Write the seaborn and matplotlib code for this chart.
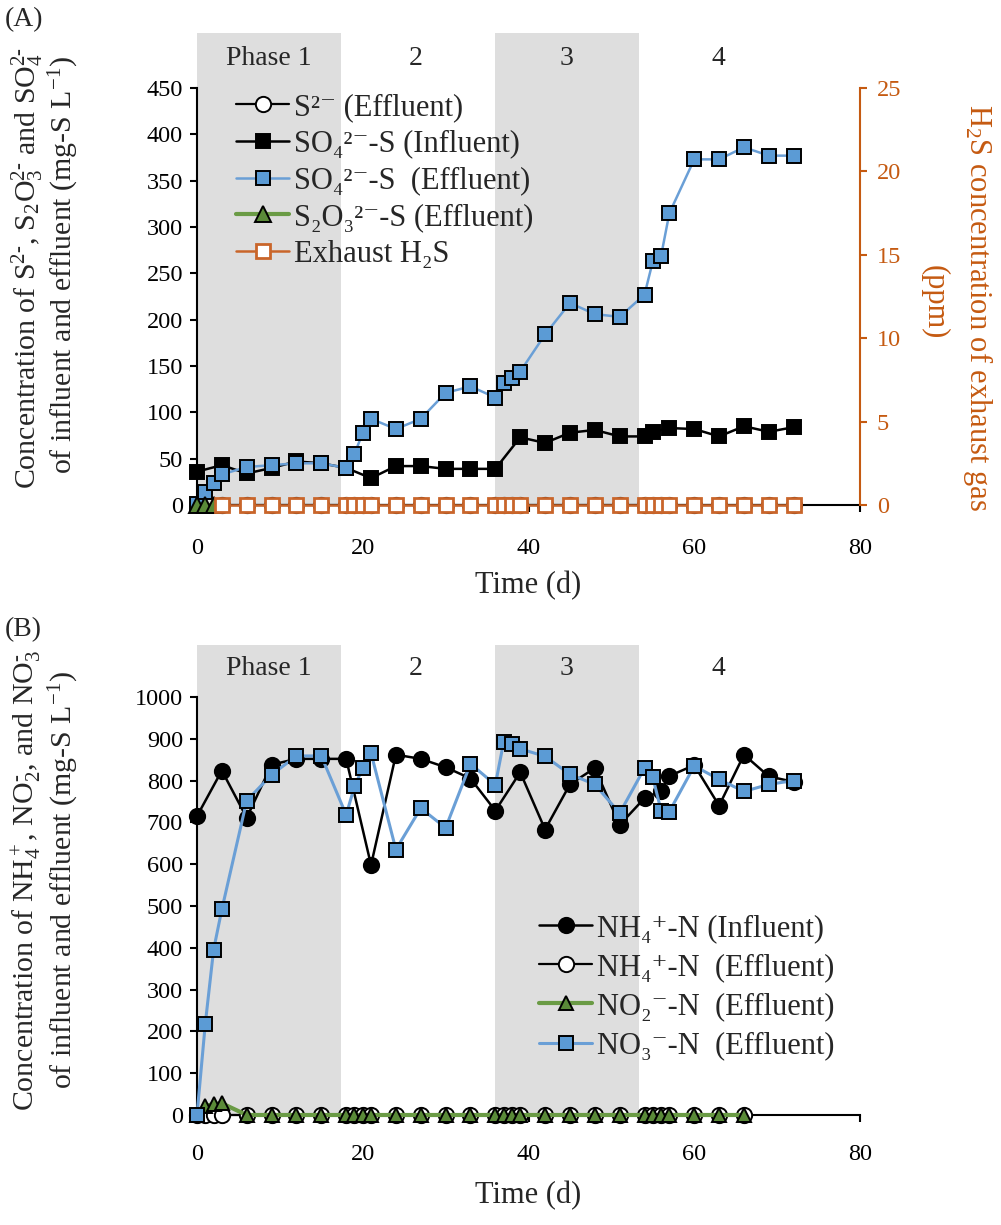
import matplotlib
matplotlib.use("Agg")
import matplotlib.pyplot as plt
import seaborn as sns

# ---------------- Panel A data ----------------
days_s2_eff = [3, 6, 9, 12, 15, 18, 19, 20, 21, 24, 27, 30, 33, 36, 37, 38, 39, 42, 45, 48, 51, 54, 55, 56, 57, 60, 63, 66, 69, 72]
s2_eff = [0, 0, 0, 0, 0, 0, 0, 0, 0, 0, 0, 0, 0, 0, 0, 0, 0, 0, 0, 0, 0, 0, 0, 0, 0, 0, 0, 0, 0, 0]

days_so4_inf = [0, 3, 6, 9, 12, 15, 18, 21, 24, 27, 30, 33, 36, 39, 42, 45, 48, 51, 54, 55, 57, 60, 63, 66, 69, 72]
so4_inf = [36, 43, 34, 40, 47, 45, 40, 29, 42, 42, 39, 39, 39, 73, 67, 78, 81, 74, 74, 79, 83, 82, 74, 85, 79, 84]

days_so4_eff = [0, 1, 2, 3, 6, 9, 12, 15, 18, 19, 20, 21, 24, 27, 30, 33, 36, 37, 38, 39, 42, 45, 48, 51, 54, 55, 56, 57, 60, 63, 66, 69, 72]
so4_eff = [1, 14, 24, 33, 41, 43, 45, 45, 40, 55, 78, 93, 82, 93, 121, 128, 116, 132, 137, 144, 184, 218, 206, 203, 227, 263, 269, 315, 373, 373, 386, 377, 377]

days_s2o3_eff = [0, 1, 2]
s2o3_eff = [0, 0, 0]

days_h2s = [3, 6, 9, 12, 15, 18, 19, 20, 21, 24, 27, 30, 33, 36, 37, 38, 39, 42, 45, 48, 51, 54, 55, 56, 57, 60, 63, 66, 69, 72]
h2s_ppm = [0, 0, 0, 0, 0, 0, 0, 0, 0, 0, 0, 0, 0, 0, 0, 0, 0, 0, 0, 0, 0, 0, 0, 0, 0, 0, 0, 0, 0, 0]

# ---------------- Panel B data ----------------
days_nh4_inf = [0, 3, 6, 9, 12, 15, 18, 21, 24, 27, 30, 33, 36, 39, 42, 45, 48, 51, 54, 56, 57, 60, 63, 66, 69, 72]
nh4_inf = [715, 824, 711, 838, 852, 852, 852, 598, 862, 852, 832, 805, 728, 820, 683, 791, 830, 694, 758, 775, 811, 837, 740, 862, 810, 797]

days_nh4_eff = [0, 1, 2, 3, 6, 9, 12, 15, 18, 19, 20, 21, 24, 27, 30, 33, 36, 37, 38, 39, 42, 45, 48, 51, 54, 55, 56, 57, 60, 63, 66]
nh4_eff = [0, 0, 0, 0, 0, 0, 0, 0, 0, 0, 0, 0, 0, 0, 0, 0, 0, 0, 0, 0, 0, 0, 0, 0, 0, 0, 0, 0, 0, 0, 0]

days_no2_eff = [0, 1, 2, 3, 6, 9, 12, 15, 18, 19, 20, 21, 24, 27, 30, 33, 36, 37, 38, 39, 42, 45, 48, 51, 54, 55, 56, 57, 60, 63, 66]
no2_eff = [0, 22, 26, 28, 0, 0, 0, 0, 0, 0, 0, 0, 0, 0, 0, 0, 0, 0, 0, 0, 0, 0, 0, 0, 0, 0, 0, 0, 0, 0, 0]

days_no3_eff = [0, 1, 2, 3, 6, 9, 12, 15, 18, 19, 20, 21, 24, 27, 30, 33, 36, 37, 38, 39, 42, 45, 48, 51, 54, 55, 56, 57, 60, 63, 66, 69, 72]
no3_eff = [0, 218, 395, 492, 752, 814, 859, 859, 718, 786, 830, 866, 635, 734, 687, 840, 790, 892, 888, 876, 858, 815, 791, 722, 830, 808, 728, 726, 835, 803, 774, 791, 800]

phase_spans = [(0, 17.4), (36.0, 53.3)]
phase_labels = ["Phase 1", "2", "3", "4"]
phase_label_x = [8.7, 26.4, 44.6, 62.9]

# ---------------- style ----------------
sns.set_theme(style="white")
plt.rcParams["font.family"] = ["Liberation Serif", "DejaVu Serif"]
plt.rcParams["mathtext.fontset"] = "custom"
plt.rcParams["mathtext.rm"] = "Liberation Serif"
plt.rcParams["mathtext.it"] = "Liberation Serif:italic"
plt.rcParams["mathtext.default"] = "rm"

FS_TICK = 17.5
FS_LAB = 22
FS_YLAB = 21.5
FS_LEG = 22
FS_PH = 20
ORANGE = "#C55A11"
ORANGE_MK = "#C9652A"
BLUE = "#5B9BD5"
BLUE_LINE = "#6A9FD6"
GREEN = "#5A8A38"
GREEN_LINE = "#6A9B45"
SHADE = "#DEDEDE"

fig = plt.figure(figsize=(10.01, 12.25), dpi=100)
axA = fig.add_axes([197 / 1001, 1 - 505 / 1225, 663 / 1001, 472 / 1225])
axB = fig.add_axes([197 / 1001, 1 - 1115 / 1225, 663 / 1001, 470 / 1225])

yA_top = 450 * 472 / 417
yB_top = 1000 * 470 / 418


def style_axis(ax, ymax_tick, ytop, ystep, xpad):
    ax.set_xlim(0, 80)
    ax.set_ylim(0, ytop)
    ax.set_xticks([0, 20, 40, 60, 80])
    ax.set_yticks(list(range(0, ymax_tick + 1, ystep)))
    for s in ["top", "right"]:
        ax.spines[s].set_visible(False)
    for s in ["left", "bottom"]:
        ax.spines[s].set_color("black")
        ax.spines[s].set_linewidth(1.5)
    ax.spines["left"].set_bounds(0, ymax_tick)
    ax.tick_params(axis="both", direction="out", length=5, width=1.5, colors="black",
                   labelsize=FS_TICK, left=True, bottom=True)
    ax.tick_params(axis="x", pad=xpad)
    ax.tick_params(axis="y", pad=5)
    ax.set_xlabel("")
    ax.set_ylabel("")
    ax.grid(False)


def shade(ax, ylab):
    for a, b in phase_spans:
        ax.axvspan(a, b, color=SHADE, lw=0, zorder=0)
    for lab, x in zip(phase_labels, phase_label_x):
        ax.text(x, ylab, lab, ha="center", va="center", fontsize=FS_PH, zorder=1)


def line(ax, x, y, label, color, marker, mfc, mec, ms, lw, mew=1.4, z=3):
    sns.lineplot(x=x, y=y, ax=ax, color=color, marker=marker, markersize=ms,
                 markerfacecolor=mfc, markeredgecolor=mec, markeredgewidth=mew,
                 linewidth=lw, label=label, estimator=None, clip_on=False, zorder=z)


# ---------------- Panel A ----------------
shade(axA, 482)
line(axA, days_s2_eff, s2_eff, "S²⁻ (Effluent)", "black", "o", "white", "black", 11, 1.6, z=3)
line(axA, days_so4_inf, so4_inf, "SO₄²⁻-S (Influent)", "black", "s", "black", "black", 10.5, 1.8, z=4)
line(axA, days_so4_eff, so4_eff, "SO₄²⁻-S  (Effluent)", BLUE_LINE, "s", BLUE, "black", 10.5, 1.8, z=5)
line(axA, days_s2o3_eff, s2o3_eff, "S₂O₃²⁻-S (Effluent)", GREEN_LINE, "^", GREEN, "black", 11, 3.0, z=6)
style_axis(axA, 450, yA_top, 50, 19)

axA2 = axA.twinx()
line(axA2, days_h2s, h2s_ppm, "Exhaust H₂S", ORANGE_MK, "s", "white", ORANGE_MK, 9.5, 1.8, mew=2.0, z=7)
axA2.set_ylim(0, 25 * yA_top / 450)
axA2.set_yticks([0, 5, 10, 15, 20, 25])
for s in ["top", "left", "bottom"]:
    axA2.spines[s].set_visible(False)
axA2.spines["right"].set_visible(True)
axA2.spines["right"].set_color(ORANGE)
axA2.spines["right"].set_linewidth(1.5)
axA2.spines["right"].set_bounds(0, 25)
axA2.tick_params(axis="y", direction="out", length=5, width=1.5, colors=ORANGE,
                 labelsize=FS_TICK, right=True, pad=7)
axA2.set_ylabel("")
axA2.grid(False)

for ax in (axA, axA2):
    if ax.get_legend() is not None:
        ax.get_legend().remove()
h1, l1 = axA.get_legend_handles_labels()
h2, l2 = axA2.get_legend_handles_labels()
axA2.legend(h1 + h2, l1 + l2, loc="upper left", bbox_to_anchor=(236 / 1001, 1 - 93 / 1225),
            bbox_transform=fig.transFigure, frameon=False, fontsize=FS_LEG, handlelength=1.75,
            handletextpad=0.15, labelspacing=0.25, borderpad=0, borderaxespad=0)

# ---------------- Panel B ----------------
shade(axB, 1069)
line(axB, days_nh4_inf, nh4_inf, "NH₄⁺-N (Influent)", "black", "o", "black", "black", 11, 1.8, z=3)
line(axB, days_nh4_eff, nh4_eff, "NH₄⁺-N  (Effluent)", "black", "o", "white", "black", 11, 1.6, z=4)
line(axB, days_no2_eff, no2_eff, "NO₂⁻-N  (Effluent)", GREEN_LINE, "^", GREEN, "black", 10.5, 3.0, z=5)
line(axB, days_no3_eff, no3_eff, "NO₃⁻-N  (Effluent)", BLUE_LINE, "s", BLUE, "black", 10.5, 2.2, z=6)
style_axis(axB, 1000, yB_top, 100, 16)
if axB.get_legend() is not None:
    axB.get_legend().remove()
hb, lb = axB.get_legend_handles_labels()
axB.legend(hb, lb, loc="upper left", bbox_to_anchor=(539 / 1001, 1 - 914 / 1225),
           bbox_transform=fig.transFigure, frameon=False, fontsize=FS_LEG, handlelength=1.75,
           handletextpad=0.15, labelspacing=0.33, borderpad=0, borderaxespad=0)

# ---------------- labels ----------------
fig.text(27 / 1001, 1 - 268 / 1225, r"Concentration of S$^{2\text{-}}$, S$_2$O$_3^{2\text{-}}$ and SO$_4^{2\text{-}}$",
         rotation=90, ha="center", va="center", fontsize=FS_YLAB)
fig.text(64 / 1001, 1 - 265 / 1225, r"of influent and effluent (mg-S L$^{-1}$)",
         rotation=90, ha="center", va="center", fontsize=FS_YLAB)
fig.text(978 / 1001, 1 - 308 / 1225, r"H$_2$S concentration of exhaust gas",
         rotation=-90, ha="center", va="center", fontsize=FS_LAB, color=ORANGE)
fig.text(934 / 1001, 1 - 302 / 1225, "(ppm)",
         rotation=-90, ha="center", va="center", fontsize=FS_LAB, color=ORANGE)

fig.text(27 / 1001, 1 - 880 / 1225, r"Concentration of NH$_4^+$, NO$_2^{\text{-}}$, and NO$_3^{\text{-}}$",
         rotation=90, ha="center", va="center", fontsize=FS_YLAB)
fig.text(64 / 1001, 1 - 880 / 1225, r"of influent and effluent (mg-S L$^{-1}$)",
         rotation=90, ha="center", va="center", fontsize=FS_YLAB)

fig.text(528 / 1001, 1 - 586 / 1225, "Time (d)", ha="center", va="center", fontsize=FS_LAB)
fig.text(528 / 1001, 1 - 1196 / 1225, "Time (d)", ha="center", va="center", fontsize=FS_LAB)
fig.text(5 / 1001, 1 - 20 / 1225, "(A)", ha="left", va="center", fontsize=FS_PH)
fig.text(5 / 1001, 1 - 630 / 1225, "(B)", ha="left", va="center", fontsize=FS_PH)

fig.savefig("out.png", dpi=100)
